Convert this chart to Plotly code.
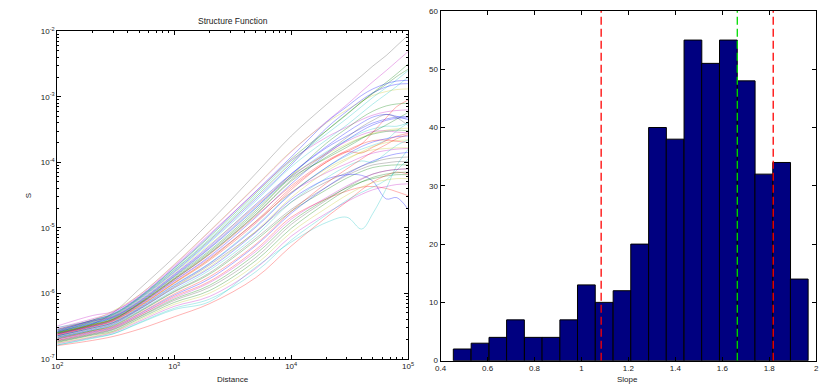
import plotly.graph_objects as go

# ---------------- structure function data ----------------
# sample distances (m)
distance = [100, 200, 300, 500, 1000, 2000, 5000, 10000, 20000, 30000,
            40000, 50000, 65000, 80000, 100000]

# log10 of S at each distance, one row per curve
upper_log_s = [
    [-6.62, -6.47, -6.30, -5.94, -5.45, -4.92, -4.17, -3.60, -3.12, -2.86, -2.68, -2.53, -2.37, -2.22, -2.06],
    [-6.53, -6.39, -6.29, -6.03, -5.57, -5.06, -4.37, -3.84, -3.38, -3.12, -2.92, -2.77, -2.60, -2.46, -2.31],
    [-6.56, -6.41, -6.27, -6.03, -5.56, -5.05, -4.36, -3.83, -3.40, -3.20, -3.07, -2.98, -2.92, -2.89, -2.88],
    [-6.55, -6.41, -6.32, -6.07, -5.62, -5.14, -4.47, -3.95, -3.52, -3.27, -3.08, -2.94, -2.78, -2.65, -2.50],
    [-6.60, -6.43, -6.33, -6.08, -5.65, -5.19, -4.53, -4.01, -3.52, -3.26, -3.08, -2.95, -2.81, -2.69, -2.58],
    [-6.52, -6.42, -6.32, -6.07, -5.64, -5.17, -4.50, -3.98, -3.57, -3.33, -3.15, -3.01, -2.86, -2.74, -2.60],
    [-6.57, -6.44, -6.35, -6.10, -5.68, -5.23, -4.59, -4.07, -3.66, -3.43, -3.25, -3.11, -2.96, -2.84, -2.70],
    [-6.58, -6.41, -6.31, -6.06, -5.61, -5.12, -4.44, -3.92, -3.39, -3.15, -2.98, -2.88, -2.80, -2.76, -2.75],
    [-6.56, -6.43, -6.34, -6.09, -5.67, -5.21, -4.56, -4.04, -3.48, -3.22, -3.05, -2.94, -2.85, -2.81, -2.80],
    [-6.50, -6.34, -6.28, -6.05, -5.59, -5.10, -4.45, -3.97, -3.62, -3.46, -3.35, -3.28, -3.23, -3.21, -3.20],
    [-6.60, -6.47, -6.38, -6.15, -5.75, -5.35, -4.73, -4.21, -3.71, -3.48, -3.32, -3.22, -3.14, -3.11, -3.10],
    [-6.58, -6.45, -6.36, -6.12, -5.71, -5.28, -4.64, -4.18, -3.78, -3.60, -3.48, -3.40, -3.34, -3.31, -3.30],
    [-6.59, -6.46, -6.37, -6.13, -5.73, -5.31, -4.69, -4.22, -3.84, -3.66, -3.55, -3.49, -3.45, -3.45, -3.40],
    [-6.60, -6.48, -6.39, -6.16, -5.77, -5.37, -4.76, -4.24, -3.94, -3.77, -3.64, -3.54, -3.43, -3.34, -3.24],
    [-6.58, -6.44, -6.35, -6.11, -5.69, -5.26, -4.66, -4.20, -3.88, -3.72, -3.62, -3.56, -3.51, -3.49, -3.48],
]
upper_colors = ["k", "m", "y", "g", "g", "c", "c", "b", "b", "m", "g", "b", "c", "g", "y"]

middle_log_s = [
    [-6.64, -6.51, -6.43, -6.21, -5.85, -5.50, -4.93, -4.42, -4.00, -3.84, -3.72, -3.54, -3.32, -3.15, -3.05],
    [-6.61, -6.48, -6.40, -6.16, -5.78, -5.39, -4.79, -4.27, -3.86, -3.62, -3.46, -3.36, -3.27, -3.32, -3.44],
    [-6.62, -6.50, -6.41, -6.18, -5.81, -5.44, -4.84, -4.33, -3.88, -3.66, -3.52, -3.43, -3.36, -3.33, -3.32],
    [-6.65, -6.52, -6.44, -6.22, -5.87, -5.54, -4.97, -4.47, -4.08, -3.90, -3.80, -3.74, -3.66, -3.52, -3.40],
    [-6.63, -6.51, -6.42, -6.20, -5.84, -5.48, -4.90, -4.39, -4.00, -3.84, -3.86, -3.77, -3.67, -3.60, -3.56],
    [-6.63, -6.50, -6.42, -6.19, -5.82, -5.46, -4.91, -4.46, -4.16, -4.02, -3.92, -3.86, -3.82, -3.80, -3.79],
    [-6.66, -6.54, -6.46, -6.25, -5.91, -5.60, -5.05, -4.54, -4.14, -3.96, -3.84, -3.76, -3.70, -3.67, -3.66],
    [-6.59, -6.46, -6.37, -6.14, -5.74, -5.32, -4.70, -4.18, -3.76, -3.54, -3.40, -3.31, -3.27, -3.30, -3.35],
    [-6.65, -6.53, -6.45, -6.24, -5.90, -5.57, -5.06, -4.61, -4.30, -4.16, -4.06, -4.00, -3.95, -3.93, -3.92],
    [-6.62, -6.49, -6.40, -6.17, -5.79, -5.41, -4.82, -4.36, -3.98, -3.82, -3.72, -3.67, -3.66, -3.68, -3.70],
    [-6.55, -6.42, -6.36, -6.13, -5.72, -5.30, -4.67, -4.22, -3.86, -3.68, -3.58, -3.53, -3.52, -3.54, -3.55],
    [-6.61, -6.49, -6.40, -6.17, -5.79, -5.40, -4.80, -4.29, -3.92, -3.74, -3.63, -3.57, -3.53, -3.51, -3.52],
    [-6.67, -6.56, -6.48, -6.27, -5.95, -5.65, -5.12, -4.61, -4.24, -4.06, -3.98, -4.00, -3.86, -3.74, -3.66],
    [-6.60, -6.48, -6.41, -6.20, -5.84, -5.48, -4.90, -4.46, -4.10, -3.94, -3.85, -3.81, -3.79, -3.78, -3.78],
    [-6.65, -6.53, -6.45, -6.23, -5.88, -5.55, -4.99, -4.48, -4.08, -3.88, -3.76, -3.69, -3.64, -3.61, -3.60],
]
middle_colors = ["r", "k", "b", "c", "r", "m", "y", "b", "k", "r", "m", "g", "c", "y", "b"]

lower_log_s = [
    [-6.68, -6.57, -6.49, -6.28, -5.97, -5.69, -5.16, -4.72, -4.38, -4.20, -4.10, -4.04, -4.01, -3.99, -3.99],
    [-6.69, -6.57, -6.50, -6.29, -5.98, -5.71, -5.19, -4.75, -4.42, -4.24, -4.14, -4.08, -4.05, -4.04, -4.04],
    [-6.67, -6.55, -6.47, -6.25, -5.92, -5.62, -5.07, -4.57, -4.26, -4.19, -4.20, -4.29, -4.56, -4.54, -4.72],
    [-6.72, -6.60, -6.53, -6.34, -6.05, -5.82, -5.33, -4.84, -4.56, -4.44, -4.38, -4.37, -4.40, -4.45, -4.51],
    [-6.73, -6.62, -6.55, -6.36, -6.09, -5.88, -5.40, -4.91, -4.56, -4.39, -4.30, -4.25, -4.21, -4.19, -4.19],
    [-6.79, -6.68, -6.62, -6.46, -6.25, -6.13, -5.60, -5.22, -4.92, -4.84, -5.02, -4.78, -4.40, -4.05, -3.80],
    [-6.80, -6.72, -6.66, -6.55, -6.36, -6.16, -5.76, -5.28, -4.84, -4.60, -4.42, -4.30, -4.20, -4.15, -4.18],
    [-6.77, -6.67, -6.60, -6.43, -6.20, -6.05, -5.62, -5.13, -4.78, -4.60, -4.49, -4.42, -4.37, -4.34, -4.33],
    [-6.79, -6.69, -6.62, -6.45, -6.23, -6.09, -5.67, -5.19, -4.80, -4.58, -4.46, -4.38, -4.27, -4.12, -3.95],
    [-6.75, -6.64, -6.58, -6.39, -6.14, -5.96, -5.50, -5.01, -4.62, -4.42, -4.30, -4.23, -4.18, -4.16, -4.15],
    [-6.70, -6.59, -6.52, -6.32, -6.03, -5.78, -5.27, -4.78, -4.38, -4.18, -4.06, -3.98, -3.91, -3.87, -3.85],
    [-6.74, -6.63, -6.56, -6.37, -6.11, -5.91, -5.45, -4.95, -4.58, -4.38, -4.26, -4.18, -4.13, -4.11, -4.10],
    [-6.70, -6.58, -6.51, -6.31, -6.01, -5.75, -5.25, -4.75, -4.32, -4.10, -3.95, -3.84, -3.73, -3.64, -3.58],
    [-6.72, -6.61, -6.54, -6.34, -6.07, -5.84, -5.36, -4.87, -4.54, -4.36, -4.25, -4.18, -4.13, -4.11, -4.10],
    [-6.76, -6.66, -6.59, -6.41, -6.17, -6.00, -5.56, -5.07, -4.70, -4.50, -4.38, -4.31, -4.27, -4.25, -4.25],
]
lower_colors = ["k", "g", "b", "r", "g", "c", "r", "m", "c", "g", "b", "k", "r", "m", "y"]

# axis tick labels
distance_ticks = [100, 1000, 10000, 100000]
distance_labels = ["10<sup>2</sup>", "10<sup>3</sup>", "10<sup>4</sup>", "10<sup>5</sup>"]
s_ticks = [1e-7, 1e-6, 1e-5, 1e-4, 1e-3, 1e-2]
s_labels = ["10<sup>-7</sup>", "10<sup>-6</sup>", "10<sup>-5</sup>",
            "10<sup>-4</sup>", "10<sup>-3</sup>", "10<sup>-2</sup>"]

# ---------------- slope histogram data ----------------
slope_bin_centers = [0.492, 0.568, 0.644, 0.719, 0.795, 0.870, 0.946, 1.021, 1.097, 1.173,
                     1.248, 1.324, 1.399, 1.475, 1.550, 1.626, 1.702, 1.777, 1.853, 1.928]
slope_counts = [2, 3, 4, 7, 4, 4, 7, 13, 10, 12, 20, 40, 38, 55, 51, 55, 48, 32, 34, 14]
slope_bin_width = 0.0756
slope_bounds = [1.084, 1.817]   # red dashed limits
slope_median = 1.664            # green dashed line
slope_ticks = [0.4, 0.6, 0.8, 1.0, 1.2, 1.4, 1.6, 1.8, 2.0]
slope_labels = ["0.4", "0.6", "0.8", "1", "1.2", "1.4", "1.6", "1.8", "2"]
count_ticks = [0, 10, 20, 30, 40, 50, 60]

# line colours (rgb) with transparency
rgb = {
    "b": (0, 0, 255), "g": (0, 128, 0), "r": (255, 0, 0), "c": (0, 191, 191),
    "m": (191, 0, 191), "y": (191, 191, 0), "k": (0, 0, 0),
}
alpha = {"b": 0.32, "g": 0.32, "r": 0.30, "c": 0.30, "m": 0.30, "y": 0.28, "k": 0.22}

fig = go.Figure()

for rows, cols in ((upper_log_s, upper_colors), (middle_log_s, middle_colors),
                   (lower_log_s, lower_colors)):
    for row, c in zip(rows, cols):
        r, g, b = rgb[c]
        fig.add_trace(go.Scatter(
            x=distance, y=[10 ** v for v in row], mode="lines",
            line=dict(color=f"rgba({r},{g},{b},{alpha[c]})", width=1.0,
                      shape="spline", smoothing=1.0),
            xaxis="x", yaxis="y", showlegend=False, hoverinfo="skip"))

fig.add_trace(go.Bar(
    x=slope_bin_centers, y=slope_counts, width=slope_bin_width,
    marker=dict(color="#000080", line=dict(color="black", width=1)),
    xaxis="x2", yaxis="y2", showlegend=False))

for v in slope_bounds:
    fig.add_trace(go.Scatter(
        x=[v, v], y=[0, 60], mode="lines",
        line=dict(color="#ff0000", width=1.3, dash="8px,4px"),
        xaxis="x2", yaxis="y2", showlegend=False))
fig.add_trace(go.Scatter(
    x=[slope_median, slope_median], y=[0, 60], mode="lines",
    line=dict(color="#00dd00", width=1.3, dash="8px,4px"),
    xaxis="x2", yaxis="y2", showlegend=False))

font = dict(family="Liberation Sans, Arial, sans-serif", size=8, color="#222")

minor_dist = [m * 10 ** e for e in (2, 3, 4) for m in range(2, 10)]
minor_s = [m * 10 ** e for e in (-7, -6, -5, -4, -3) for m in range(2, 10)]

axis_common = dict(showline=True, linecolor="black", linewidth=1, mirror="ticks",
                   ticks="inside", ticklen=4, tickcolor="black", showgrid=False,
                   zeroline=False, tickfont=font)

fig.update_layout(
    width=832, height=389,
    margin=dict(l=0, r=0, t=0, b=0),
    paper_bgcolor="white", plot_bgcolor="white",
    font=font,
    xaxis=dict(axis_common, type="log", range=[2, 5], domain=[0.0625, 0.4904],
               tickvals=distance_ticks, ticktext=distance_labels,
               minor=dict(tickmode="array", tickvals=minor_dist, ticks="inside",
                          ticklen=2, tickcolor="black"),
               anchor="y"),
    yaxis=dict(axis_common, type="log", range=[-7, -2], domain=[0.0668, 0.9332],
               tickvals=s_ticks, ticktext=s_labels,
               minor=dict(tickmode="array", tickvals=minor_s, ticks="inside",
                          ticklen=2, tickcolor="black"),
               anchor="x"),
    xaxis2=dict(axis_common, range=[0.4, 2], domain=[0.530, 0.988],
                tickvals=slope_ticks, ticktext=slope_labels, anchor="y2"),
    yaxis2=dict(axis_common, range=[0, 60], domain=[0.0617, 0.987],
                tickvals=count_ticks, anchor="x2"),
    annotations=[
        dict(text="Structure Function", x=230 / 832, y=1 - 15 / 389, xref="paper", yref="paper",
             showarrow=False, font=dict(font, size=8.5), xanchor="center", yanchor="middle"),
        dict(text="Distance", x=230 / 832, y=1 - 384 / 389, xref="paper", yref="paper",
             showarrow=False, font=font, xanchor="center", yanchor="middle"),
        dict(text="S", x=23 / 832, y=1 - 195 / 389, xref="paper", yref="paper",
             showarrow=False, font=font, textangle=-90, xanchor="center", yanchor="middle"),
        dict(text="Slope", x=631 / 832, y=1 - 384 / 389, xref="paper", yref="paper",
             showarrow=False, font=font, xanchor="center", yanchor="middle"),
    ],
)

fig.write_html("out.html")
